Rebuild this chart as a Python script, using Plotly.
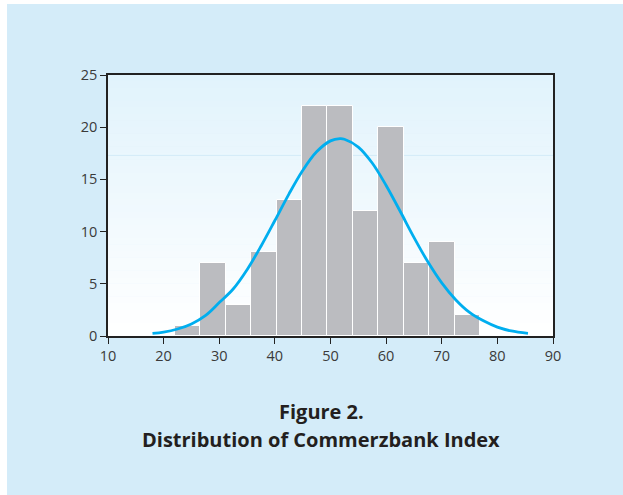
import plotly.graph_objects as go

# Histogram data
bin_edges = [22.0, 26.6, 31.2, 35.7, 40.3, 44.9, 49.4, 54.0, 58.6, 63.2, 67.7, 72.3, 76.9]
counts = [1, 7, 3, 8, 13, 22, 22, 12, 20, 7, 9, 2]

# Fitted curve points
curve_x = [18, 20, 22.5, 25, 27.5, 30, 32.5, 35, 37.5, 40, 42.5, 45, 47.5, 50, 51.7,
           52.5, 55, 57.5, 60, 62.5, 65, 67.5, 70, 72.5, 75, 77.5, 80, 82.5, 85.5]
curve_y = [0.25, 0.37, 0.67, 1.16, 1.95, 3.2, 4.5, 6.35, 8.6, 11.06, 13.57, 15.85, 17.64, 18.69, 18.9,
           18.85, 18.1, 16.57, 14.42, 11.97, 9.45, 7.11, 5.09, 3.48, 2.26, 1.45, 0.85, 0.48, 0.25]

x_ticks = [10, 20, 30, 40, 50, 60, 70, 80, 90]
y_ticks = [0, 5, 10, 15, 20, 25]

title_line1 = "Figure 2."
title_line2 = "Distribution of Commerzbank Index"

centers = [(a + b) / 2 for a, b in zip(bin_edges[:-1], bin_edges[1:])]
widths = [b - a for a, b in zip(bin_edges[:-1], bin_edges[1:])]

fig = go.Figure()
fig.add_trace(go.Bar(x=centers, y=counts, width=widths,
                     marker=dict(color="#bbbcc0", line=dict(color="white", width=1)),
                     hoverinfo="x+y"))
fig.add_trace(go.Scatter(x=curve_x, y=curve_y, mode="lines",
                         line=dict(color="#00aeef", width=2.8, shape="spline")))

shapes = []
# outer light blue panel
shapes.append(dict(type="rect", xref="paper", yref="paper",
                   x0=(7 - 108) / 445, x1=(640 - 108) / 445,
                   y0=(336 - 510) / 261, y1=(336 - 4) / 261,
                   fillcolor="#d4ecf9", line=dict(width=0), layer="below"))
# vertical gradient in plot area
n = 40
top = (0xe1, 0xf3, 0xfc)
bot = (0xff, 0xff, 0xff)
for i in range(n):
    t = i / (n - 1)
    c = tuple(int(round(bot[k] + (top[k] - bot[k]) * t)) for k in range(3))
    shapes.append(dict(type="rect", xref="x domain", yref="y domain",
                       x0=0, x1=1, y0=i / n, y1=(i + 1) / n + 0.002,
                       fillcolor="rgb(%d,%d,%d)" % c, line=dict(width=0), layer="below"))
# faint line in background
shapes.append(dict(type="line", xref="x domain", yref="y", x0=0, x1=1, y0=17.3, y1=17.3,
                   line=dict(color="#d2ebf8", width=1), layer="below"))

axis_font = dict(family="Open Sans, Noto Sans, sans-serif", size=14.5, color="#3a3a3a")
title_font = dict(family="Open Sans, Noto Sans, sans-serif", size=20, color="#231f20")

fig.update_layout(
    width=623, height=495,
    margin=dict(l=108, r=70, t=75, b=159),
    paper_bgcolor="white",
    plot_bgcolor="white",
    showlegend=False,
    bargap=0,
    shapes=shapes,
    xaxis=dict(range=[10, 90], tickvals=x_ticks, ticks="outside", ticklen=6, tickcolor="#222",
               showline=True, linecolor="#222", linewidth=1.5, mirror=True,
               showgrid=False, zeroline=False, tickfont=axis_font),
    yaxis=dict(range=[0, 25], tickvals=y_ticks, ticks="outside", ticklen=6, tickcolor="#222",
               showline=True, linecolor="#222", linewidth=1.5, mirror=True,
               showgrid=False, zeroline=False, tickfont=axis_font),
    annotations=[
        dict(text="<b>%s</b>" % title_line1, xref="paper", yref="paper",
             x=(321 - 108) / 445, y=(336 - 411) / 261, showarrow=False,
             font=title_font, xanchor="center", yanchor="middle"),
        dict(text="<b>%s</b>" % title_line2, xref="paper", yref="paper",
             x=(321 - 108) / 445, y=(336 - 439) / 261, showarrow=False,
             font=title_font, xanchor="center", yanchor="middle"),
    ],
)

fig.write_html("out.html", config={"displayModeBar": False},
               post_script="document.body.style.margin='0';")
